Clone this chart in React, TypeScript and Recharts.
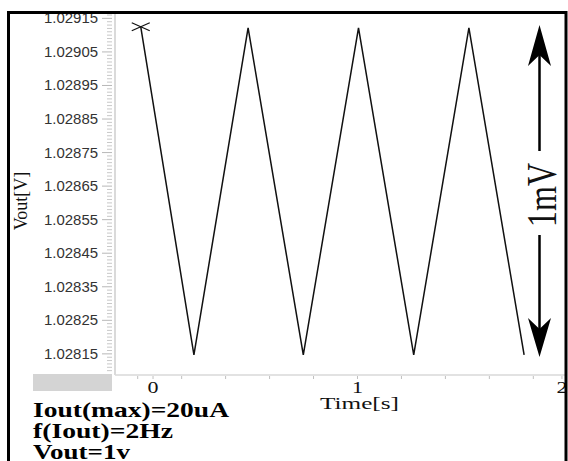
import React from "react"
import {
  LineChart,
  Line,
  XAxis,
  YAxis,
  CartesianGrid,
} from "recharts"

// time [s] of each corner of the triangle wave
const timeValues = [-0.06, 0.2, 0.465, 0.735, 1.005, 1.275, 1.545, 1.815]
// Vout [V] at each corner
const voutValues = [1.029125, 1.028147, 1.029122, 1.028147, 1.029122, 1.028147, 1.029122, 1.028147]

const yLabelTicks = [
  1.02815, 1.02825, 1.02835, 1.02845, 1.02855, 1.02865, 1.02875, 1.02885, 1.02895, 1.02905, 1.02915,
]
const xLabelTicks = [0, 1, 2]
const xMinorTicks = [-0.075, 0.14, 0.355, 0.57, 0.785, 1, 1.215, 1.43, 1.645, 1.86]

const yDomain = [1.028087, 1.029169]
const xDomain = [-0.186, 2.015]

const data = timeValues.map((t, i) => ({ t, v: voutValues[i] }))

// ruler marks on the y axis, one every 0.00001 V
const yMinorTicks = Array.from({ length: 107 }, (_, i) => +(1.0281 + i * 0.00001).toFixed(5))
const yLabelSet = new Set(yLabelTicks.map((v) => v.toFixed(5)))

function YTick({ x, y, payload }: any) {
  const major = yLabelSet.has(Number(payload.value).toFixed(5))
  return (
    <g>
      <line x1={x - 3} x2={x - (major ? 13 : 8)} y1={y} y2={y} stroke={major ? "#b8b8b8" : "#c8c8c8"} strokeWidth={1} />
      {major && (
        <text
          x={x - 17}
          y={y}
          textAnchor="end"
          dominantBaseline="central"
          fontFamily="'Liberation Sans', Arial, sans-serif"
          fontSize={14}
          fill="#333"
          textLength={54}
          lengthAdjust="spacingAndGlyphs"
        >
          {Number(payload.value).toFixed(5)}
        </text>
      )}
    </g>
  )
}

function XTick({ x, y, payload }: any) {
  const v = Number(payload.value)
  const isLabel = xLabelTicks.some((l) => Math.abs(l - v) < 1e-9)
  return (
    <g>
      {isLabel ? (
        <text
          x={x}
          y={y + 12}
          textAnchor="middle"
          dominantBaseline="central"
          fontFamily="'Liberation Serif', 'Times New Roman', serif"
          fontSize={16}
          fill="#111"
          textLength={11}
          lengthAdjust="spacingAndGlyphs"
        >
          {v}
        </text>
      ) : null}
      <line x1={x} x2={x} y1={y + 1} y2={y + 4} stroke="#c0c0c0" />
    </g>
  )
}

function StartMark(props: any) {
  const { cx, cy, index } = props
  if (index !== 0) return <g key={`d-${index}`} />
  return (
    <g key="d-0" stroke="#111" strokeWidth={1.3}>
      <line x1={cx - 9} y1={cy - 4} x2={cx + 9} y2={cy + 4} />
      <line x1={cx - 9} y1={cy + 4} x2={cx + 9} y2={cy - 4} />
    </g>
  )
}

// faint dotted grid lines at the labelled voltages
function gridRows({ yAxis }: any) {
  try {
    return yLabelTicks.map((v) => yAxis.scale(v))
  } catch (e) {
    return []
  }
}

const serif = "'Liberation Serif', 'Times New Roman', serif"

export default function App() {
  const xTicks = Array.from(new Set([...xMinorTicks, ...xLabelTicks])).sort((a, b) => a - b)
  return (
    <div style={{ position: "absolute", left: 0, top: 0, width: 568, height: 461, background: "#fff", overflow: "hidden" }}>
      <LineChart width={568} height={461} data={data} margin={{ top: 12, right: 3, bottom: 56, left: 0 }}>
        <CartesianGrid
          vertical={false}
          stroke="#e6e6e6"
          strokeDasharray="1 3"
          horizontalCoordinatesGenerator={gridRows}
        />
        <XAxis
          dataKey="t"
          type="number"
          domain={xDomain}
          allowDataOverflow
          ticks={xTicks}
          interval={0}
          height={30}
          tickSize={0}
          tickMargin={0}
          tickLine={false}
          axisLine={{ stroke: "#d8d8d8", strokeWidth: 1.5 }}
          tick={<XTick />}
        />
        <YAxis
          type="number"
          domain={yDomain}
          allowDataOverflow
          ticks={yMinorTicks}
          interval={0}
          width={115}
          tickSize={0}
          tickMargin={0}
          tickLine={false}
          axisLine={{ stroke: "#dadada", strokeWidth: 2 }}
          tick={<YTick />}
        />
        <Line
          type="linear"
          dataKey="v"
          stroke="#111"
          strokeWidth={1.5}
          dot={StartMark}
          activeDot={false}
          isAnimationActive={false}
        />
      </LineChart>
      <svg width={568} height={461} style={{ position: "absolute", left: 0, top: 0, pointerEvents: "none" }}>
        <rect x={33} y={374} width={79} height={17} fill="#d4d4d4" />
        <text
          x={21}
          y={201}
          transform="rotate(-90 21 201)"
          textAnchor="middle"
          dominantBaseline="central"
          fontFamily={serif}
          fontSize={18}
          fill="#111"
        >
          Vout[V]
        </text>
        <text x={320} y={409} fontFamily={serif} fontSize={17} fill="#111" textLength={79} lengthAdjust="spacingAndGlyphs">
          Time[s]
        </text>
        <text x={33} y={417} fontFamily={serif} fontWeight="bold" fontSize={20} fill="#000" textLength={196} lengthAdjust="spacingAndGlyphs">
          Iout(max)=20uA
        </text>
        <text x={33} y={438} fontFamily={serif} fontWeight="bold" fontSize={20} fill="#000" textLength={140} lengthAdjust="spacingAndGlyphs">
          f(Iout)=2Hz
        </text>
        <text x={33} y={459} fontFamily={serif} fontWeight="bold" fontSize={20} fill="#000" textLength={97} lengthAdjust="spacingAndGlyphs">
          Vout=1v
        </text>
        {/* 1mV span marker */}
        <line x1={539.5} x2={539.5} y1={54} y2={151} stroke="#000" strokeWidth={2.5} />
        <polygon points="539.5,25 551,66 539.5,55 528,66" fill="#000" />
        <line x1={539.5} x2={539.5} y1={235} y2={330} stroke="#000" strokeWidth={2.5} />
        <polygon points="539.5,357 551,318 539.5,329 528,318" fill="#000" />
        <g transform="translate(541 195) scale(1.35 1) rotate(-90)">
          <text x={0} y={0} textAnchor="middle" dominantBaseline="central" fontFamily={serif} fontSize={32} fill="#111">
            1mV
          </text>
        </g>
        <rect x={8.5} y={12.5} width={557.5} height={470} fill="none" stroke="#000" strokeWidth={3} />
      </svg>
    </div>
  )
}
